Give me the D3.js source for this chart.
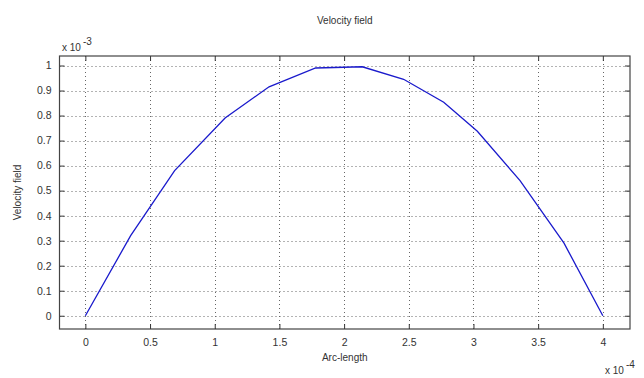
<!DOCTYPE html>
<html>
<head>
<meta charset="utf-8">
<script src="https://cdn.jsdelivr.net/npm/d3@7"></script>
<style>
  body { margin: 0; background: #fff; }
  svg text { font-family: "Liberation Sans", Arial, sans-serif; fill: #333; }
</style>
</head>
<body>
<svg id="chart" width="644" height="378"></svg>
<script>
// Daten (Arc-length in 1e-4, Velocity in 1e-3)
const arcLength = [0, 0.35, 0.69, 1.08, 1.42, 1.78, 2.14, 2.46, 2.77, 3.03, 3.36, 3.70, 4.0];
const velocity  = [0, 0.32, 0.58, 0.79, 0.915, 0.99, 0.995, 0.945, 0.853, 0.737, 0.54, 0.29, 0];
const xTicks = [0, 0.5, 1, 1.5, 2, 2.5, 3, 3.5, 4];
const yTicks = [0, 0.1, 0.2, 0.3, 0.4, 0.5, 0.6, 0.7, 0.8, 0.9, 1];

const svg = d3.select("#chart");
const box = {left: 59.5, right: 630, top: 56, bottom: 329};

const x = d3.scaleLinear().domain([-0.2, 4.21]).range([box.left, box.right]);
const y = d3.scaleLinear().domain([-0.053, 1.038]).range([box.bottom, box.top]);

// Gitterlinien (gepunktet)
const grid = svg.append("g").attr("stroke", "#666").attr("stroke-width", 1)
  .attr("stroke-dasharray", "1,3");
grid.selectAll("line.gx").data(xTicks).enter().append("line")
  .attr("x1", d => Math.round(x(d)) + 0.5).attr("x2", d => Math.round(x(d)) + 0.5)
  .attr("y1", box.top).attr("y2", box.bottom);
grid.selectAll("line.gy").data(yTicks).enter().append("line")
  .attr("y1", d => Math.round(y(d)) + 0.5).attr("y2", d => Math.round(y(d)) + 0.5)
  .attr("x1", box.left).attr("x2", box.right);

// Achsen mit inneren Ticks
const tick = 5;
const axB = d3.axisBottom(x).tickValues(xTicks).tickSize(-tick).tickPadding(10).tickFormat(d3.format("~g"));
const axT = d3.axisTop(x).tickValues(xTicks).tickSize(-tick).tickFormat("");
const axL = d3.axisLeft(y).tickValues(yTicks).tickSize(-tick).tickPadding(8).tickFormat(d3.format("~g"));
const axR = d3.axisRight(y).tickValues(yTicks).tickSize(-tick).tickFormat("");

function styleAxis(g) {
  g.select(".domain").remove();
  g.selectAll(".tick line").attr("stroke", "#333");
  g.selectAll(".tick text").attr("font-size", 10.5).attr("fill", "#444")
    .style("font-family", '"Liberation Sans", Arial, sans-serif');
}
svg.append("g").attr("transform", `translate(0,${box.bottom})`).call(axB).call(styleAxis);
svg.append("g").attr("transform", `translate(0,${box.top})`).call(axT).call(styleAxis);
svg.append("g").attr("transform", `translate(${box.left},0)`).call(axL).call(styleAxis);
svg.append("g").attr("transform", `translate(${box.right},0)`).call(axR).call(styleAxis);

// Rahmen
svg.append("rect")
  .attr("x", box.left).attr("y", box.top)
  .attr("width", box.right - box.left).attr("height", box.bottom - box.top)
  .attr("fill", "none").attr("stroke", "#444").attr("stroke-width", 1.2);

// Kurve
const pts = arcLength.map((d, i) => [d, velocity[i]]);
svg.append("path")
  .datum(pts)
  .attr("fill", "none")
  .attr("stroke", "#1a1acc")
  .attr("stroke-width", 1.3)
  .attr("d", d3.line().x(d => x(d[0])).y(d => y(d[1])));

// Beschriftungen
const mid = (box.left + box.right) / 2;
svg.append("text").attr("x", mid).attr("y", 24).attr("text-anchor", "middle")
  .attr("font-size", 10).text("Velocity field");
svg.append("text").attr("x", mid).attr("y", 361).attr("text-anchor", "middle")
  .attr("font-size", 10).text("Arc-length");
svg.append("text").attr("transform", `translate(21,${(box.top + box.bottom) / 2}) rotate(-90)`)
  .attr("text-anchor", "middle").attr("font-size", 10).text("Velocity field");

// Exponenten
const e1 = svg.append("text").attr("x", 62).attr("y", 51).attr("font-size", 10);
e1.append("tspan").text("x 10");
e1.append("tspan").attr("dy", -6).attr("dx", 2).text("-3");
const e2 = svg.append("text").attr("x", 605).attr("y", 374).attr("font-size", 10);
e2.append("tspan").text("x 10");
e2.append("tspan").attr("dy", -6).attr("dx", 2).text("-4");
</script>
</body>
</html>
